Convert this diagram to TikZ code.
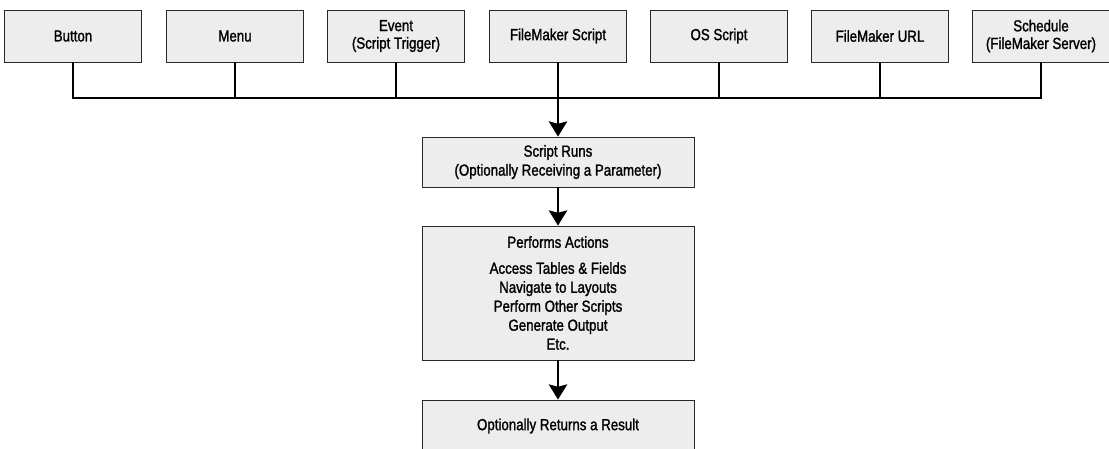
\documentclass[tikz,border=0pt]{standalone}
\usepackage{fontspec}
\setmainfont{Liberation Sans}[FakeStretch=0.83, FakeBold=1.4]
\usetikzlibrary{arrows.meta, positioning}
\definecolor{boxFill}{RGB}{237,237,237}
\definecolor{boxEdge}{RGB}{40,40,40}

\begin{document}
\begin{tikzpicture}[
        srcbox/.style={rectangle, draw=boxEdge, line width=0.6pt, fill=boxFill, minimum width=3.425cm, minimum height=1.3cm, inner sep=0pt, align=center, font=\fontsize{11.4}{12.5}\selectfont},
        flowbox/.style={srcbox, minimum width=6.8cm, font=\fontsize{11.4}{13.5}\selectfont},
        bus/.style={line width=1.6pt, black},
        arr/.style={bus, -{Stealth[length=3.8mm, width=4.6mm, inset=0.6mm]}},
    ]
    \useasboundingbox (0,0) rectangle (27.725,-11.225);
    % trigger sources
    \node[srcbox] at (1.825,-0.9) (button) {Button};
    \node[srcbox] at (5.875,-0.9) (menu) {Menu};
    \node[srcbox] at (9.9,-0.9) (event) {Event\\(Script Trigger)};
    \node[srcbox] at (13.95,-0.9) (fmscript) {FileMaker Script};
    \node[srcbox] at (17.975,-0.9) (osscript) {OS Script};
    \node[srcbox] at (22.0,-0.9) (fmurl) {FileMaker URL};
    \node[srcbox] at (26.025,-0.9) (schedule) {Schedule\\(FileMaker Server)};
    % flow
    \node[flowbox, minimum height=1.25cm] at (13.95,-4.05) (runs) {Script Runs\\(Optionally Receiving a Parameter)};
    \node[flowbox, minimum height=3.35cm] at (13.95,-7.325) (perform) {Performs Actions\\[5pt]Access Tables \& Fields\\Navigate to Layouts\\Perform Other Scripts\\Generate Output\\Etc.};
    \node[flowbox, minimum height=1.3cm] at (13.95,-10.65) (result) {Optionally Returns a Result};
    % bus
    \coordinate (busR) at (26.025,-2.45);
    \draw[bus] (button.south) |- (busR) -- (schedule.south);
    \draw[bus] (menu.south) -- (menu.south |- busR);
    \draw[bus] (event.south) -- (event.south |- busR);
    \draw[bus] (osscript.south) -- (osscript.south |- busR);
    \draw[bus] (fmurl.south) -- (fmurl.south |- busR);
    \draw[arr] (fmscript.south) -- (runs.north);
    \draw[arr] (runs.south) -- (perform.north);
    \draw[arr] (perform.south) -- (result.north);
\end{tikzpicture}
\end{document}
